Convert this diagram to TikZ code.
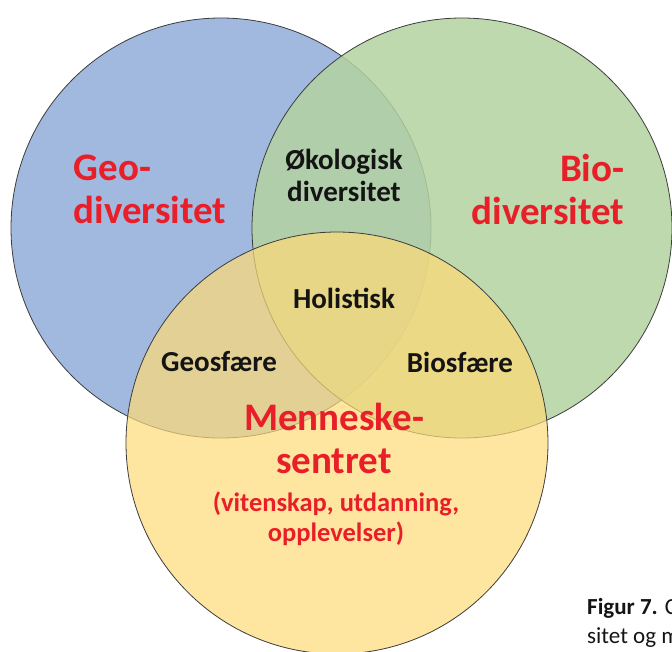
\documentclass[tikz,border=0pt]{standalone}
\usepackage{fontspec}
\setmainfont{Carlito}
\definecolor{geoblue}{RGB}{161,185,222}
\definecolor{biogreen}{RGB}{179,210,160}
\definecolor{humyellow}{RGB}{254,218,119}
\definecolor{labelred}{RGB}{232,30,40}
\definecolor{labelblack}{RGB}{20,20,20}
\definecolor{rimgray}{RGB}{60,60,60}
\tikzset{
  rim/.style={draw=rimgray, line width=0.8pt},
  setcircle/.style={circle, rim, minimum size=#1, inner sep=0pt},
  bigred/.style={font=\bfseries\fontsize{39}{43}\selectfont, text=labelred, inner sep=0pt},
  subred/.style={font=\bfseries\fontsize{26.5}{30}\selectfont, text=labelred, inner sep=0pt, align=center},
  zonelabel/.style={font=\bfseries\fontsize{29}{32}\selectfont, text=labelblack, inner sep=0pt, align=center},
  captiontext/.style={font=\fontsize{23}{27}\selectfont, text=labelblack, inner sep=0pt, anchor=base west},
}
\begin{document}
\begin{tikzpicture}[x=1pt,y=-1pt]
  \useasboundingbox (0,0) rectangle (672,651);
  % the three overlapping sets
  \node[setcircle=420pt, fill=geoblue] (geo) at (221,228) {};
  \node[setcircle=420pt, fill=biogreen, fill opacity=0.85] (bio) at (462,228) {};
  \node[setcircle=422pt, fill=humyellow, fill opacity=0.70] (hum) at (337,443) {};

  % set titles
  \node[bigred, align=left] (geotitle) at (150,189) {Geo-\\diversitet};
  \node[bigred, align=right] (biotitle) at (548,189) {Bio-\\diversitet};
  \node[bigred, align=center] (humtitle) at (334,438) {Menneske-\\sentret};
  \node[subred] (humsub) at (336,519) {(vitenskap, utdanning,\\opplevelser)};

  % overlap labels
  \node[zonelabel] (oko) at (344,175) {Økologisk\\diversitet};
  \node[zonelabel] (holi) at (344,298) {Holistisk};
  \node[zonelabel] (geosf) at (219,362) {Geosfære};
  \node[zonelabel] (biosf) at (460,362) {Biosfære};

  % figure caption
  \node[captiontext] (cap1) at (587,614) {\textbf{Figur 7.} C};
  \node[captiontext] (cap2) at (587,643) {sitet og m};
\end{tikzpicture}
\end{document}
